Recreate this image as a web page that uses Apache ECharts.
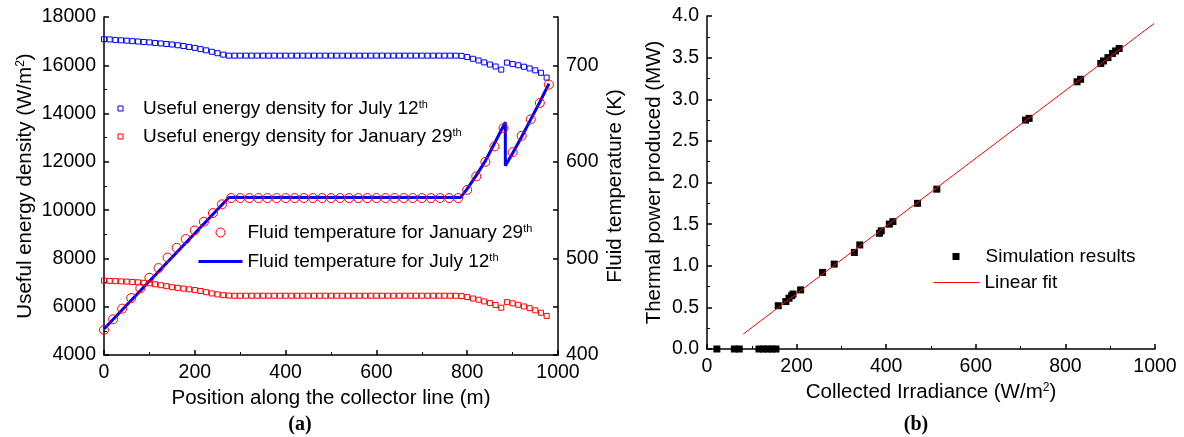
<!DOCTYPE html>
<html><head><meta charset="utf-8">
<script src="https://cdn.jsdelivr.net/npm/echarts@6/dist/echarts.min.js"></script>
<style>html,body{margin:0;padding:0;background:#fff}#c{width:1184px;height:437px}</style>
</head><body><div id="c"></div>
<script>
// ---------- Panel (a) data ----------
// positions of the useful-energy-density points (m)
const densityPositions = [0,12.5,25,37.5,50,62.5,75,87.5,100,112.5,125,137.5,150,162.5,175,187.5,200,212.5,225,237.5,250,262.5,275,287.5,300,312.5,325,337.5,350,362.5,375,387.5,400,412.5,425,437.5,450,462.5,475,487.5,500,512.5,525,537.5,550,562.5,575,587.5,600,612.5,625,637.5,650,662.5,675,687.5,700,712.5,725,737.5,750,762.5,775,787.5,800,812.5,825,837.5,850,862.5,875,887.5,900,912.5,925,937.5,950,962.5,975];
// useful energy density, July 12th (W/m2)
const densityJuly = [17080,17070,17050,17035,17020,17000,16985,16965,16950,16925,16905,16880,16860,16830,16800,16760,16720,16670,16620,16560,16500,16440,16400,16400,16400,16400,16400,16400,16400,16400,16400,16400,16400,16400,16400,16400,16400,16400,16400,16400,16400,16400,16400,16400,16400,16400,16400,16400,16400,16400,16400,16400,16400,16400,16400,16400,16400,16400,16400,16400,16400,16400,16400,16390,16340,16270,16200,16120,16030,15950,15820,16110,16050,16000,15940,15870,15790,15690,15490];
// useful energy density, January 29th (W/m2)
const densityJanuary = [7080,7070,7060,7050,7040,7025,7010,6990,6970,6930,6890,6850,6810,6780,6750,6720,6690,6650,6600,6550,6510,6480,6460,6455,6455,6455,6455,6455,6455,6455,6455,6455,6455,6455,6455,6455,6455,6455,6455,6455,6455,6455,6455,6455,6455,6455,6455,6455,6455,6455,6455,6455,6455,6455,6455,6455,6455,6455,6455,6455,6455,6455,6455,6440,6400,6340,6290,6220,6150,6070,5960,6190,6140,6080,6010,5940,5850,5750,5620];
// fluid temperature, January 29th (K), every 20 m
const tempPositionsJan = [0,20,40,60,80,100,120,140,160,180,200,220,240,260,280,300,320,340,360,380,400,420,440,460,480,500,520,540,560,580,600,620,640,660,680,700,720,740,760,780,800,820,840,860,880,900,920,940,960,980];
const tempJanuary = [426,437,448,459,469,480,490,501,511,520,529,538,547,556,562.5,562.5,562.5,562.5,562.5,562.5,562.5,562.5,562.5,562.5,562.5,562.5,562.5,562.5,562.5,562.5,562.5,562.5,562.5,562.5,562.5,562.5,562.5,562.5,562.5,562.5,571,585,600,616,635,610,627,644,661,680];
// fluid temperature, July 12th (K) – line vertices
const tempPositionsJuly = [0,275,785,800,820,840,860,884,884,900,920,940,960,980];
const tempJuly = [427,563,563,572,586,601,619,641,596,609,626,644,662,681];

// ---------- Panel (b) data ----------
const irradiance = [22,61,72,116,126,136,145,154,159,176,183,189,192,209,258,284,329,341,385,389,407,415,470,513,711,719,826,834,879,885,895,905,912,920];
const thermalPower = [0,0,0,0,0,0,0,0,0.52,0.57,0.61,0.64,0.66,0.71,0.92,1.02,1.16,1.25,1.39,1.42,1.50,1.53,1.75,1.92,2.75,2.77,3.21,3.24,3.43,3.46,3.50,3.55,3.58,3.61];
const fitIrradiance = [81,998];
const fitPower = [0.18,3.91];

const zip = (a,b)=>a.map((v,i)=>[v,b[i]]);
const FONT = '"Liberation Sans", Arial, sans-serif';
const TICK = 19.5, NAME = 20.5, LEG = 19;
const supRich = {sup:{fontSize:12,fontFamily:FONT,color:'#000',verticalAlign:'top',lineHeight:12}};

function axisBase(extra){
  return Object.assign({
    type:'value',
    axisLine:{show:true,onZero:false,lineStyle:{color:'#000',width:1.5}},
    axisTick:{show:true,inside:true,length:5,lineStyle:{color:'#000',width:1.5}},
    minorTick:{show:true,splitNumber:2,length:3,lineStyle:{color:'#000',width:1}},
    splitLine:{show:false},
    axisLabel:{color:'#000',fontSize:TICK,fontFamily:FONT,margin:8,formatter:v=>String(v)},
    nameLocation:'middle',
    nameTextStyle:{color:'#000',fontSize:NAME,fontFamily:FONT,rich:supRich}
  }, extra);
}

const names = {
  uj:'Useful energy density for July 12th',
  ua:'Useful energy density for January 29th',
  fa:'Fluid temperature for January 29th',
  fj:'Fluid temperature for July 12th',
  sim:'Simulation results',
  fit:'Linear fit'
};
function legFmt(n){ return n.endsWith('th') ? n.slice(0,-2)+'{sup|th}' : n; }
function legText(padLeft){
  return {color:'#000',fontSize:LEG,fontFamily:FONT,lineHeight:18,padding:[0,0,0,padLeft],
    rich:{sup:{fontSize:11,fontFamily:FONT,color:'#000',verticalAlign:'top',lineHeight:11}}};
}
const legBase = {orient:'vertical',padding:0,selectedMode:false,formatter:legFmt};
const noSymbol = {color:'rgba(0,0,0,0)',borderColor:'rgba(0,0,0,0)',borderWidth:0};

const chart = echarts.init(document.getElementById('c'), null, {renderer:'canvas'});
chart.setOption({
  animation:false,
  backgroundColor:'#fff',
  grid:[
    {left:104, top:17, width:454, height:338},
    {left:707, top:16, width:448, height:333}
  ],
  xAxis:[
    axisBase({gridIndex:0,min:0,max:1000,interval:200,name:'Position along the collector line (m)',nameGap:28}),
    axisBase({gridIndex:1,min:0,max:1000,interval:200,name:'Collected Irradiance (W/m{sup|2})',nameGap:28})
  ],
  yAxis:[
    axisBase({gridIndex:0,position:'left',min:4000,max:18000,interval:2000,name:'Useful energy density (W/m{sup|2})',nameGap:68}),
    axisBase({gridIndex:0,position:'right',min:400,max:750,interval:50,minorTick:{show:false},
      axisLabel:{color:'#000',fontSize:TICK,fontFamily:FONT,margin:8,formatter:v=>v%100===0?String(v):''},
      name:'Fluid temperature (K)',nameGap:47}),
    axisBase({gridIndex:1,position:'left',min:0,max:4,interval:0.5,
      axisLabel:{color:'#000',fontSize:TICK,fontFamily:FONT,margin:8,formatter:v=>v.toFixed(1)},
      name:'Thermal power produced (MW)',nameGap:42})
  ],
  legend:[
    Object.assign({}, legBase, {left:117.5,top:99,itemWidth:5,itemHeight:5,itemGap:9,textStyle:legText(15),
     data:[
       {name:names.uj,icon:'rect',itemStyle:{color:'rgba(0,0,0,0)',borderColor:'#0000ff',borderWidth:1}},
       {name:names.ua,icon:'rect',itemStyle:{color:'rgba(0,0,0,0)',borderColor:'#ff0000',borderWidth:1}}
     ]}),
    Object.assign({}, legBase, {left:197,top:223,itemWidth:44,itemHeight:9,itemGap:10,textStyle:legText(0),
     data:[
       {name:names.fa,icon:'circle',itemStyle:{color:'rgba(0,0,0,0)',borderColor:'#ff0000',borderWidth:1}},
       {name:names.fj,lineStyle:{width:3,color:'#0000ff'},itemStyle:noSymbol}
     ]}),
    Object.assign({}, legBase, {left:952.5,top:247,itemWidth:7,itemHeight:7,textStyle:legText(21),
     data:[{name:names.sim,icon:'rect',itemStyle:{color:'#000',borderWidth:0,opacity:1}}]}),
    Object.assign({}, legBase, {left:933,top:273,itemWidth:46,itemHeight:7,textStyle:legText(0),
     data:[{name:names.fit,lineStyle:{width:1,color:'#ff0000'},itemStyle:noSymbol}]})
  ],
  series:[
    {name:names.uj,type:'scatter',xAxisIndex:0,yAxisIndex:0,symbol:'rect',symbolSize:5,
     itemStyle:{color:'rgba(0,0,0,0)',borderColor:'#0000ff',borderWidth:1,opacity:1},
     data:zip(densityPositions,densityJuly),z:3},
    {name:names.ua,type:'scatter',xAxisIndex:0,yAxisIndex:0,symbol:'rect',symbolSize:5,
     itemStyle:{color:'rgba(0,0,0,0)',borderColor:'#ff0000',borderWidth:1,opacity:1},
     data:zip(densityPositions,densityJanuary),z:3},
    {name:names.fj,type:'line',xAxisIndex:0,yAxisIndex:1,symbol:'none',showSymbol:false,
     lineStyle:{color:'#0000ff',width:3},itemStyle:{color:'#0000ff'},
     data:zip(tempPositionsJuly,tempJuly),z:2},
    {name:names.fa,type:'scatter',xAxisIndex:0,yAxisIndex:1,symbol:'circle',symbolSize:9,
     itemStyle:{color:'rgba(0,0,0,0)',borderColor:'#ff0000',borderWidth:1,opacity:1},
     data:zip(tempPositionsJan,tempJanuary),z:4},
    {name:names.sim,type:'scatter',xAxisIndex:1,yAxisIndex:2,symbol:'rect',symbolSize:7,
     itemStyle:{color:'#000',opacity:1},data:zip(irradiance,thermalPower),z:3},
    {name:names.fit,type:'line',xAxisIndex:1,yAxisIndex:2,symbol:'none',showSymbol:false,
     lineStyle:{color:'#ff0000',width:1},itemStyle:{color:'#ff0000'},
     data:zip(fitIrradiance,fitPower),z:4}
  ],
  graphic:[
    {type:'text',x:300,y:425,style:{text:'(a)',font:'bold 20px "Liberation Serif", "Times New Roman", serif',fill:'#000',align:'center',verticalAlign:'middle',textAlign:'center',textVerticalAlign:'middle'}},
    {type:'text',x:916,y:425,style:{text:'(b)',font:'bold 20px "Liberation Serif", "Times New Roman", serif',fill:'#000',align:'center',verticalAlign:'middle',textAlign:'center',textVerticalAlign:'middle'}}
  ]
});
</script>
</body></html>
